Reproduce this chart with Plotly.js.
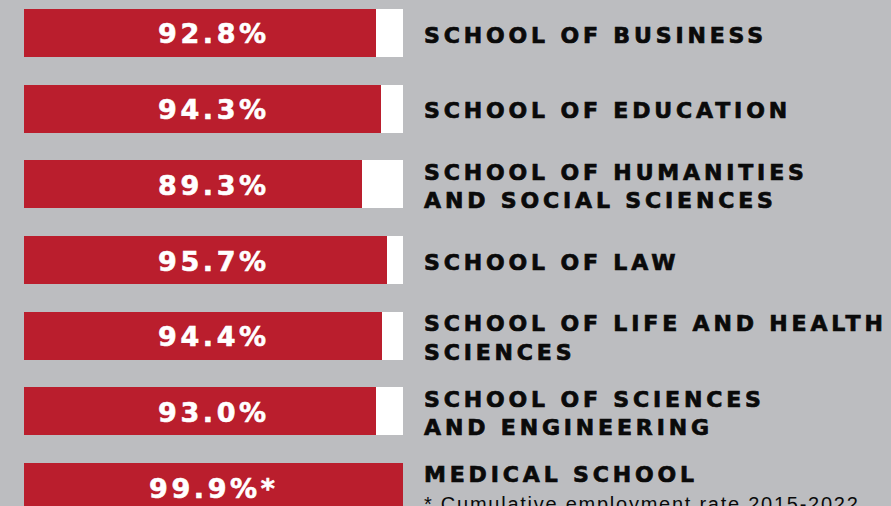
<!DOCTYPE html>
<html>
<head>
<meta charset="utf-8">
<script src="https://cdn.plot.ly/plotly-3.0.1.min.js"></script>
<style>
  html, body { margin: 0; padding: 0; background: #BCBDC0; }
  #chart { width: 891px; height: 506px; }
  .ytick text { letter-spacing: 3.85px; stroke: #0A0A0A; stroke-width: 0.7px; }
  text.annotation-text { letter-spacing: 3.6px; stroke: #FFFFFF; stroke-width: 0.6px; }
</style>
</head>
<body>
<div id="chart"></div>
<script>
// ---- data ----
const categories = [
  'School of Business',
  'School of Education',
  'School of Humanities and Social Sciences',
  'School of Law',
  'School of Life and Health Sciences',
  'School of Sciences and Engineering',
  'Medical School'
];
const tickLabels = [
  'SCHOOL OF BUSINESS',
  'SCHOOL OF EDUCATION',
  'SCHOOL OF HUMANITIES<br>AND SOCIAL SCIENCES',
  'SCHOOL OF LAW',
  'SCHOOL OF LIFE AND HEALTH<br>SCIENCES',
  'SCHOOL OF SCIENCES<br>AND ENGINEERING',
  'MEDICAL SCHOOL<br><span style="font-family:\'Liberation Sans\';font-weight:normal;font-size:20px;letter-spacing:1.75px;stroke-width:0">* Cumulative employment rate 2015-2022</span>'
];
const values = [92.8, 94.3, 89.3, 95.7, 94.4, 93.0, 99.9];
const valueSuffix = ['', '', '', '', '', '', '*'];
const scaleMax = 100;

// ---- styles ----
const RED = '#BA1E2D';
const GREY = '#BCBDC0';

const remainder = values.map(v => +(scaleMax - v).toFixed(1));

const traces = [
  {
    type: 'bar', orientation: 'h',
    y: categories, x: values,
    marker: { color: RED, line: { width: 0 } },
    width: 0.634, hoverinfo: 'skip'
  },
  {
    type: 'bar', orientation: 'h',
    y: categories, x: remainder,
    marker: { color: '#FFFFFF', line: { width: 0 } },
    width: 0.634, hoverinfo: 'skip'
  }
];

const annotations = categories.map((c, i) => ({
  x: scaleMax / 2, y: c, xref: 'x', yref: 'y',
  text: values[i].toFixed(1) + '%' + valueSuffix[i],
  showarrow: false, xanchor: 'center', yanchor: 'middle',
  yshift: -1,
  font: { family: 'DejaVu Sans', size: 27, color: '#FFFFFF', weight: 'bold' }
}));

const layout = {
  width: 891, height: 506,
  margin: { l: 24, r: 488, t: 0, b: 0, pad: 0 },
  paper_bgcolor: GREY, plot_bgcolor: GREY,
  barmode: 'stack', showlegend: false,
  xaxis: { range: [0, scaleMax], visible: false, fixedrange: true },
  yaxis: {
    type: 'category',
    range: [6.251, -0.436],
    side: 'right',
    tickvals: categories, ticktext: tickLabels,
    ticks: '', showgrid: false, zeroline: false, showline: false,
    ticklabelstandoff: 20,
    ticklabelshift: -2,
    tickfont: { family: 'DejaVu Sans', size: 22, color: '#0A0A0A', weight: 'bold' },
    automargin: false, fixedrange: true
  },
  annotations: annotations
};

Plotly.newPlot('chart', traces, layout, { staticPlot: true, displayModeBar: false });
</script>
</body>
</html>
